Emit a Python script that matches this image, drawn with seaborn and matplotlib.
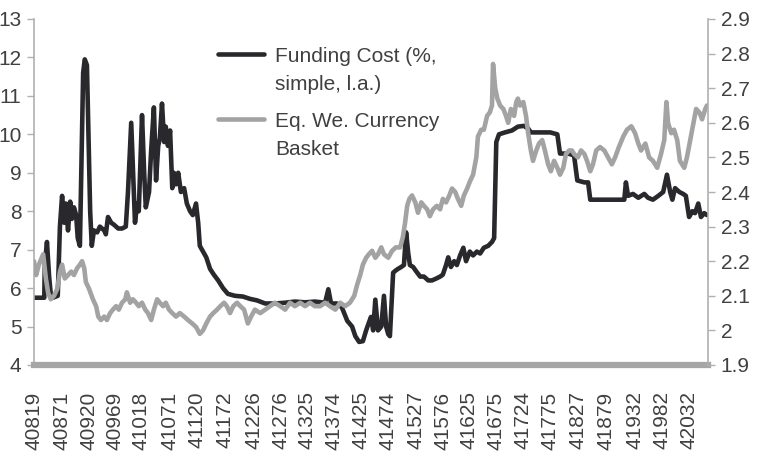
import numpy as np
import pandas as pd
import seaborn as sns
import matplotlib.pyplot as plt
from matplotlib.lines import Line2D
from matplotlib.legend_handler import HandlerLine2D
from matplotlib.ticker import FuncFormatter

# x values are Excel date serials
fund_days = [40819, 40838, 40839, 40843, 40847, 40850, 40854, 40863, 40867, 40871,
             40875, 40878, 40882, 40886, 40889, 40893, 40897, 40900, 40904, 40910,
             40913, 40917, 40923, 40926, 40930, 40936, 40941, 40949, 40952, 40956,
             40962, 40967, 40975, 40982, 40989, 40993, 40999, 41002, 41006, 41010,
             41013, 41019, 41023, 41026, 41032, 41036, 41041, 41045, 41049, 41052,
             41056, 41060, 41063, 41067, 41071, 41075, 41078, 41082, 41086, 41091,
             41097, 41102, 41108, 41113, 41119, 41123, 41126, 41132, 41138, 41145,
             41152, 41160, 41169, 41178, 41191, 41206, 41219, 41232, 41247, 41265,
             41284, 41302, 41321, 41339, 41358, 41364, 41369, 41380, 41389, 41399,
             41408, 41414, 41421, 41428, 41434, 41439, 41443, 41447, 41451, 41456,
             41462, 41467, 41471, 41475, 41478, 41484, 41488, 41493, 41499, 41504,
             41508, 41512, 41515, 41521, 41526, 41534, 41541, 41549, 41556, 41564,
             41571, 41576, 41582, 41586, 41591, 41597, 41602, 41608, 41614, 41619,
             41626, 41632, 41639, 41645, 41652, 41660, 41667, 41671, 41675, 41680,
             41691, 41704, 41715, 41726, 41734, 41739, 41756, 41775, 41788, 41793,
             41808, 41819, 41825, 41838, 41845, 41849, 41867, 41889, 41912, 41915,
             41919, 41928, 41938, 41949, 41956, 41965, 41975, 41984, 41991, 41997,
             42001, 42006, 42014, 42021, 42026, 42032, 42038, 42043, 42049, 42054,
             42060, 42065]
fund_cost = [5.75, 5.75, 6.6, 7.2, 6.3, 5.85, 5.75, 5.8, 7.6, 8.4,
             7.7, 8.2, 7.5, 8.25, 7.8, 8.1, 7.9, 7.3, 7.1, 11.6,
             11.95, 11.8, 8.0, 7.1, 7.5, 7.45, 7.6, 7.5, 7.4, 7.85,
             7.7, 7.65, 7.55, 7.55, 7.6, 8.5, 10.3, 9.2, 7.7, 8.2,
             8.0, 10.5, 9.0, 8.1, 8.5, 9.6, 10.7, 8.8, 9.7, 9.9,
             10.8, 9.8, 10.2, 9.7, 10.1, 8.6, 9.0, 8.7, 9.0, 8.5,
             8.6, 8.2, 8.0, 7.9, 8.2, 7.7, 7.1, 6.95, 6.8, 6.5,
             6.35, 6.2, 6.0, 5.85, 5.8, 5.78, 5.72, 5.68, 5.6, 5.6,
             5.62, 5.65, 5.63, 5.65, 5.62, 5.97, 5.6, 5.6, 5.5, 5.15,
             5.0, 4.75, 4.6, 4.62, 4.9, 5.1, 5.25, 4.9, 5.7, 4.9,
             5.0, 5.8, 5.0, 4.8, 4.75, 6.4, 6.45, 6.5, 6.55, 6.6,
             7.45, 6.9, 6.6, 6.55, 6.45, 6.3, 6.3, 6.2, 6.2, 6.25,
             6.3, 6.35, 6.6, 6.8, 6.55, 6.7, 6.6, 6.85, 7.05, 6.7,
             6.95, 6.85, 6.95, 6.9, 7.05, 7.1, 7.2, 7.3, 9.8, 10.0,
             10.05, 10.1, 10.2, 10.22, 10.15, 10.05, 10.05, 10.05, 10.0, 9.5,
             9.5, 9.45, 8.8, 8.75, 8.75, 8.3, 8.3, 8.3, 8.3, 8.75,
             8.4, 8.45, 8.35, 8.45, 8.35, 8.3, 8.4, 8.5, 8.95, 8.5,
             8.3, 8.6, 8.5, 8.45, 8.4, 7.85, 8.0, 7.95, 8.2, 7.85,
             7.95, 7.9]

basket_days = [40819, 40823, 40828, 40836, 40841, 40845, 40850, 40856, 40862, 40867,
               40871, 40876, 40882, 40888, 40893, 40899, 40904, 40908, 40912, 40915,
               40921, 40928, 40934, 40938, 40943, 40949, 40954, 40960, 40965, 40971,
               40976, 40982, 40988, 40991, 40997, 41002, 41008, 41013, 41019, 41025,
               41030, 41036, 41041, 41047, 41052, 41058, 41063, 41069, 41075, 41082,
               41089, 41097, 41104, 41112, 41119, 41126, 41132, 41138, 41145, 41151,
               41158, 41164, 41171, 41176, 41182, 41188, 41195, 41201, 41208, 41215,
               41221, 41228, 41238, 41247, 41256, 41265, 41275, 41284, 41293, 41302,
               41312, 41321, 41330, 41339, 41349, 41358, 41367, 41377, 41386, 41395,
               41404, 41412, 41417, 41423, 41428, 41434, 41439, 41445, 41451, 41456,
               41462, 41467, 41475, 41482, 41489, 41497, 41502, 41506, 41510, 41514,
               41519, 41525, 41530, 41536, 41541, 41547, 41552, 41558, 41565, 41571,
               41576, 41582, 41588, 41593, 41599, 41604, 41610, 41615, 41621, 41626,
               41632, 41638, 41641, 41647, 41652, 41658, 41663, 41667, 41669, 41673,
               41677, 41682, 41688, 41693, 41697, 41702, 41708, 41712, 41715, 41719,
               41725, 41730, 41734, 41739, 41743, 41749, 41754, 41760, 41765, 41771,
               41776, 41782, 41788, 41793, 41799, 41804, 41810, 41815, 41819, 41826,
               41832, 41838, 41843, 41849, 41854, 41860, 41867, 41875, 41882, 41889,
               41895, 41902, 41910, 41917, 41925, 41932, 41938, 41943, 41951, 41958,
               41965, 41973, 41980, 41986, 41990, 41993, 41999, 42004, 42010, 42015,
               42023, 42028, 42034, 42040, 42045, 42051, 42056, 42062, 42065]
basket = [2.20, 2.16, 2.19, 2.22, 2.15, 2.11, 2.09, 2.10, 2.12, 2.17,
          2.19, 2.15, 2.16, 2.17, 2.16, 2.18, 2.19, 2.20, 2.18, 2.14,
          2.12, 2.09, 2.07, 2.04, 2.03, 2.04, 2.03, 2.05, 2.06, 2.07,
          2.06, 2.08, 2.09, 2.11, 2.08, 2.09, 2.08, 2.07, 2.08, 2.06,
          2.05, 2.03, 2.06, 2.09, 2.08, 2.07, 2.08, 2.06, 2.05, 2.04,
          2.05, 2.04, 2.03, 2.02, 2.01, 1.99, 2.00, 2.02, 2.04, 2.05,
          2.06, 2.07, 2.08, 2.07, 2.05, 2.07, 2.08, 2.07, 2.06, 2.02,
          2.04, 2.06, 2.05, 2.06, 2.07, 2.08, 2.07, 2.06, 2.08, 2.07,
          2.08, 2.07, 2.08, 2.07, 2.07, 2.08, 2.07, 2.06, 2.08, 2.07,
          2.08, 2.10, 2.13, 2.16, 2.19, 2.21, 2.22, 2.23, 2.21, 2.22,
          2.24, 2.22, 2.21, 2.23, 2.24, 2.24, 2.27, 2.31, 2.36, 2.38,
          2.39, 2.37, 2.34, 2.37, 2.36, 2.35, 2.33, 2.35, 2.36, 2.35,
          2.38, 2.37, 2.39, 2.41, 2.40, 2.38, 2.36, 2.39, 2.41, 2.43,
          2.45, 2.50, 2.56, 2.58, 2.58, 2.62, 2.63, 2.65, 2.77, 2.70,
          2.67, 2.65, 2.64, 2.62, 2.60, 2.64, 2.62, 2.66, 2.67, 2.65,
          2.66, 2.62, 2.57, 2.52, 2.49, 2.52, 2.54, 2.55, 2.52, 2.48,
          2.46, 2.49, 2.47, 2.45, 2.47, 2.51, 2.52, 2.52, 2.51, 2.50,
          2.52, 2.51, 2.49, 2.46, 2.48, 2.52, 2.53, 2.52, 2.50, 2.48,
          2.50, 2.53, 2.56, 2.58, 2.59, 2.57, 2.54, 2.52, 2.54, 2.50,
          2.49, 2.47, 2.51, 2.55, 2.66, 2.60, 2.57, 2.58, 2.55, 2.49,
          2.47, 2.50, 2.55, 2.60, 2.64, 2.63, 2.61, 2.64, 2.65]

tick_days = [40819, 40871, 40920, 40969, 41018, 41071, 41120, 41172, 41226, 41276,
             41325, 41374, 41425, 41474, 41527, 41576, 41625, 41675, 41724, 41775,
             41827, 41879, 41932, 41982, 42032]

labels = ["Funding Cost (%,\nsimple, l.a.)", "Eq. We. Currency\nBasket"]


class FirstLineHandler(HandlerLine2D):
    # put the legend line next to the first text line, like Excel does
    def create_artists(self, legend, orig_handle, xdescent, ydescent, width, height, fontsize, trans):
        arts = super().create_artists(legend, orig_handle, xdescent, ydescent, width, height, fontsize, trans)
        for a in arts:
            a.set_ydata(np.asarray(a.get_ydata()) + 0.8 * fontsize)
        return arts


def main():
    sns.set_theme(style="white")
    plt.rcParams['font.family'] = ['Liberation Sans', 'DejaVu Sans']
    txt_col = '#404040'
    axis_col = '#b0b0b0'
    dark = '#29292d'
    grey = '#a3a3a3'
    lw = 3.3

    fig = plt.figure(figsize=(7.59, 4.51), dpi=100)
    ax = fig.add_axes([34 / 759, 1 - 365 / 451, 674 / 759, 346 / 451])

    df_f = pd.DataFrame({'day': fund_days, 'rate': fund_cost})
    df_b = pd.DataFrame({'day': basket_days, 'basket': basket})

    sns.lineplot(data=df_f, x='day', y='rate', ax=ax, color=dark, lw=lw)
    ax2 = ax.twinx()
    sns.lineplot(data=df_b, x='day', y='basket', ax=ax2, color=grey, lw=lw)

    ax.set_xlim(40819, 42067)
    ax.set_ylim(4, 13)
    ax.set_yticks(range(4, 14))
    ax2.set_ylim(1.9, 2.9)
    ax2.set_yticks(np.arange(1.9, 2.95, 0.1))
    ax2.yaxis.set_major_formatter(FuncFormatter(lambda v, _: f'{round(v, 1):g}'))

    ax.set_xticks(tick_days)
    ax.set_xticklabels([str(d) for d in tick_days], rotation=90)
    ax.set_xlabel('')
    ax.set_ylabel('')
    ax2.set_ylabel('')

    for a in (ax, ax2):
        a.spines['top'].set_visible(False)
    ax.spines['right'].set_visible(False)
    ax2.spines['left'].set_visible(False)
    ax2.spines['bottom'].set_visible(False)
    ax.spines['left'].set_color(axis_col)
    ax.spines['left'].set_linewidth(1.2)
    ax2.spines['right'].set_color(axis_col)
    ax2.spines['right'].set_linewidth(1.2)
    ax.spines['bottom'].set_color('#a6a6a6')
    ax.spines['bottom'].set_linewidth(4.5)

    ax.tick_params(axis='y', left=True, direction='out', length=5, width=1,
                   color=axis_col, labelsize=15, labelcolor=txt_col, pad=4)
    ax2.tick_params(axis='y', right=True, direction='out', length=5, width=1,
                    color=axis_col, labelsize=15, labelcolor=txt_col, pad=4)
    ax.tick_params(axis='x', bottom=False, labelsize=15, labelcolor=txt_col, pad=13)

    handles = [Line2D([], [], color=dark, lw=lw), Line2D([], [], color=grey, lw=lw)]
    leg = fig.legend(handles, labels, loc='upper left', bbox_to_anchor=(218 / 759, 1 - 47 / 451),
                     frameon=False, fontsize=15, handlelength=2.2, handletextpad=0.55,
                     labelspacing=0.9, borderpad=0, borderaxespad=0,
                     handler_map={Line2D: FirstLineHandler()})
    for t in leg.get_texts():
        t.set_color(txt_col)
        t.set_linespacing(1.57)

    plt.savefig('out.png', dpi=100)
    plt.close()


if __name__ == "__main__":
    main()
